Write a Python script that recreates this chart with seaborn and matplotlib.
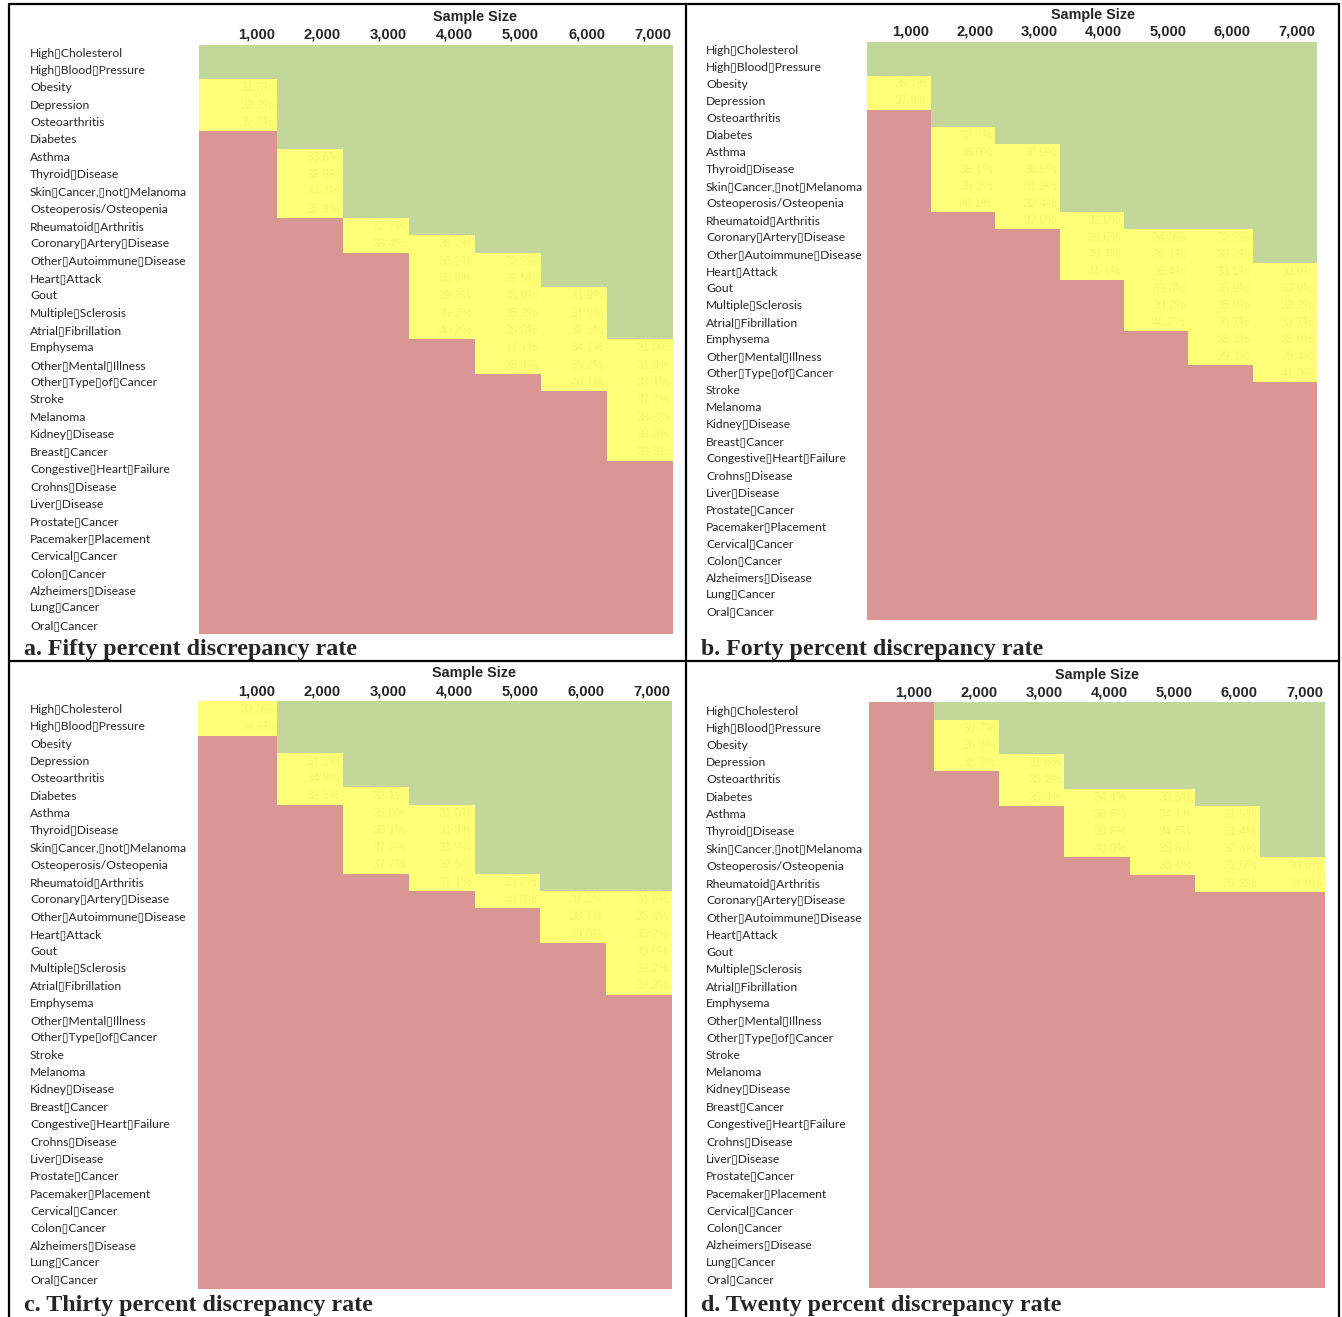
import matplotlib
matplotlib.use('Agg')
import matplotlib.pyplot as plt
import numpy as np
import pandas as pd
import seaborn as sns
from matplotlib.colors import ListedColormap
from matplotlib.lines import Line2D

# ---- data ----
conditions = ['High Cholesterol', 'High Blood Pressure', 'Obesity', 'Depression',
              'Osteoarthritis', 'Diabetes', 'Asthma', 'Thyroid Disease',
              'Skin Cancer, not Melanoma', 'Osteoperosis/Osteopenia',
              'Rheumatoid Arthritis', 'Coronary Artery Disease',
              'Other Autoimmune Disease', 'Heart Attack', 'Gout',
              'Multiple Sclerosis', 'Atrial Fibrillation', 'Emphysema',
              'Other Mental Illness', 'Other Type of Cancer', 'Stroke', 'Melanoma',
              'Kidney Disease', 'Breast Cancer', 'Congestive Heart Failure',
              'Crohns Disease', 'Liver Disease', 'Prostate Cancer',
              'Pacemaker Placement', 'Cervical Cancer', 'Colon Cancer',
              'Alzheimers Disease', 'Lung Cancer', 'Oral Cancer']
sample_sizes = ['1,000', '2,000', '3,000', '4,000', '5,000', '6,000', '7,000']

# first row of the yellow band in each sample-size column; rows above are green,
# rows below the listed yellow values are red
a_start = [2, 6, 10, 11, 12, 14, 17]
a_vals = [[31.3, 33.3, 37.2],
          [33.6, 33.8, 34.7, 35.3],
          [32.7, 38.4],
          [35.2, 36.2, 36.6, 39.3, 39.2, 40.2],
          [32.2, 32.5, 35.0, 35.3, 35.3, 37.1, 38.4],
          [31.9, 31.8, 32.5, 34.1, 35.2, 40.1],
          [31.0, 31.9, 37.1, 37.7, 38.8, 38.8, 39.3]]

b_start = [2, 5, 6, 10, 11, 11, 13]
b_vals = [[35.7, 37.8],
          [33.7, 38.0, 38.1, 39.3, 40.1],
          [30.9, 30.9, 31.9, 32.4, 37.0],
          [32.0, 39.6, 40.7, 41.1],
          [34.9, 36.1, 36.4, 39.3, 39.2, 40.2],
          [32.2, 33.2, 33.5, 35.9, 35.8, 36.7, 38.3, 39.3],
          [30.9, 33.0, 33.3, 33.7, 35.0, 36.4, 41.0]]

c_start = [0, 3, 5, 6, 10, 11, 11]
c_vals = [[33.9, 34.8],
          [31.2, 34.8, 39.5],
          [32.1, 36.0, 36.1, 37.2, 37.7],
          [31.0, 31.3, 31.9, 32.5, 37.1],
          [33.2, 40.8],
          [37.2, 38.7, 39.0],
          [34.6, 35.4, 36.2, 39.0, 39.2, 39.3]]

d_start = [0, 1, 3, 5, 5, 6, 9]
d_vals = [[],
          [30.7, 36.9, 38.9],
          [31.6, 35.2, 39.9],
          [34.4, 38.6, 38.6, 40.0],
          [30.5, 34.1, 34.5, 35.6, 36.4],
          [31.5, 31.4, 32.4, 32.6, 37.2],
          [30.6, 34.0]]

captions = ['a. Fifty percent discrepancy rate', 'b. Forty percent discrepancy rate',
            'c. Thirty percent discrepancy rate', 'd. Twenty percent discrepancy rate']

# ---- style ----
GREEN, YELLOW, RED = '#C4D79B', '#FFFF78', '#DA9694'
VAL_COLOR = '#F5F56A'
cmap = ListedColormap([GREEN, YELLOW, RED])

sns.set_style('white')
plt.rcParams['font.family'] = ['Lato', 'DejaVu Sans']

W, H = 1342, 1317
fig = plt.figure(figsize=(W / 100, H / 100), dpi=100)


def fx(x):
    return x / W


def fy(y):
    return 1 - y / H


def build(start, vals):
    codes = np.full((len(conditions), len(sample_sizes)), 2)
    annot = np.full(codes.shape, '', dtype=object)
    for j, (s, v) in enumerate(zip(start, vals)):
        codes[:s, j] = 0
        for k, val in enumerate(v):
            codes[s + k, j] = 1
            annot[s + k, j] = f'{val:.1f}%'
    df = pd.DataFrame(codes, index=conditions, columns=sample_sizes)
    return df, annot


# layout in pixels: heatmap edges (left, after col 1, right), top, bottom
layout = [
    dict(edges=(199, 277, 673), top=44.5, bottom=634, label_x=30,
         title=(475, 17), size_y=35, cap=(24, 648)),
    dict(edges=(867, 931, 1317), top=41.5, bottom=620.5, label_x=706,
         title=(1093, 15), size_y=32, cap=(701, 648)),
    dict(edges=(198, 277, 672), top=701, bottom=1288.5, label_x=30,
         title=(474, 673), size_y=691, cap=(24, 1305)),
    dict(edges=(869, 934, 1325), top=702.5, bottom=1288, label_x=706,
         title=(1097, 675), size_y=693, cap=(701, 1305)),
]
panel_data = [(a_start, a_vals), (b_start, b_vals), (c_start, c_vals), (d_start, d_vals)]

for (start, vals), lay, cap in zip(panel_data, layout, captions):
    df, annot = build(start, vals)
    x0, x1, x2 = lay['edges']
    top, bottom = lay['top'], lay['bottom']
    parts = [(x0, x1, slice(0, 1)), (x1, x2, slice(1, 7))]
    for i_part, (l, r, sl) in enumerate(parts):
        ax = fig.add_axes([fx(l), fy(bottom), (r - l) / W, (bottom - top) / H])
        sub = df.iloc[:, sl]
        sub_annot = annot[:, sl]
        sns.heatmap(sub, ax=ax, cmap=cmap, vmin=-0.5, vmax=2.5, cbar=False,
                    linewidths=0)
        ax.set_xlabel('')
        ax.set_ylabel('')
        # yellow-cell values, right aligned
        for i in range(sub_annot.shape[0]):
            for j in range(sub_annot.shape[1]):
                if sub_annot[i, j]:
                    ax.text(j + 0.96, i + 0.52, sub_annot[i, j], ha='right',
                            va='center', color=VAL_COLOR, fontsize=8.6,
                            family='Liberation Sans')
        # sample size labels along the top
        ax.xaxis.tick_top()
        ax.set_xticks(np.arange(1, sub.shape[1] + 1) - 0.03)
        ax.set_xticklabels(sub.columns, fontweight='bold', fontsize=10.6,
                           family='Liberation Sans', ha='right', rotation=0)
        ax.tick_params(axis='x', length=0, pad=2)
        if i_part == 0:
            ax.set_yticks(np.arange(len(conditions)) + 0.5)
            ax.set_yticklabels([c.replace(' ', '\u25af') for c in conditions],
                               ha='left', rotation=0, fontsize=8.7)
            ax.tick_params(axis='y', length=0, pad=(l - lay['label_x']) * 0.72)
        else:
            ax.set_yticks([])
        for s in ax.spines.values():
            s.set_visible(False)

    fig.text(fx(lay['title'][0]), fy(lay['title'][1]), 'Sample Size',
             ha='center', va='center', fontsize=10.4, fontweight='bold',
             family='Liberation Sans')
    fig.text(fx(lay['cap'][0]), fy(lay['cap'][1] + 1), cap, ha='left', va='center',
             fontsize=17.3, fontweight='bold', family='Liberation Serif')

# frame lines around the four panels
for xs, ys in [((9, 1339), (4, 4)), ((9, 1339), (661, 661)), ((9, 9), (4, 1317)),
               ((686, 686), (4, 1317)), ((1339, 1339), (4, 1317))]:
    fig.add_artist(Line2D([fx(xs[0]), fx(xs[1])], [fy(ys[0]), fy(ys[1])],
                          transform=fig.transFigure, color='black', lw=1.6))

plt.savefig('out.png', dpi=100)
plt.close()
